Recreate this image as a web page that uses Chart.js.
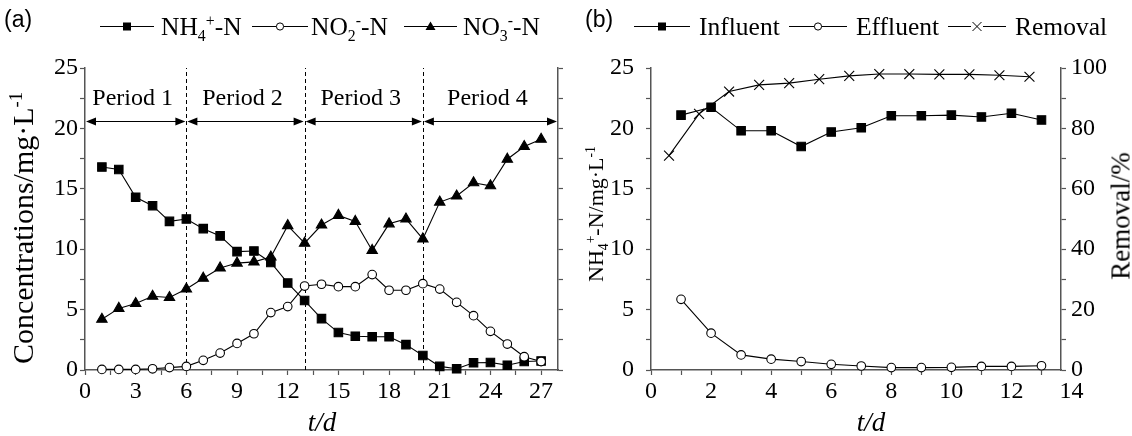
<!DOCTYPE html>
<html>
<head>
<meta charset="utf-8">
<script src="https://cdn.jsdelivr.net/npm/chart.js@4/dist/chart.umd.min.js"></script>
<style>
html,body{margin:0;padding:0;background:#fff;}
#wrap{position:relative;width:1132px;height:436px;overflow:hidden;font-family:"Liberation Serif","Times New Roman",serif;color:#000;}
canvas{position:absolute;top:0;}
.t{position:absolute;white-space:nowrap;line-height:1;}
.rot{transform:translate(-50%,-50%) rotate(-90deg);}
.ctr{transform:translate(-50%,-50%);}
sub,sup{font-size:62%;line-height:0;}
</style>
</head>
<body>
<div id="wrap">
<canvas id="ca" width="566" height="436" style="left:0;width:566px;height:436px"></canvas>
<canvas id="cb" width="566" height="436" style="left:566px;width:566px;height:436px"></canvas>
<svg id="lg" width="1132" height="50" style="position:absolute;left:0;top:0"></svg>
</div>
<script>
// ---------- data: panel (a) ----------
const daysA = [1,2,3,4,5,6,7,8,9,10,11,12,13,14,15,16,17,18,19,20,21,22,23,24,25,26,27];
const nh4 = [16.8,16.6,14.3,13.6,12.3,12.5,11.7,11.1,9.8,9.85,8.9,7.2,5.75,4.25,3.1,2.8,2.75,2.75,2.1,1.2,0.3,0.1,0.6,0.62,0.4,0.7,0.75];
const no2 = [0.05,0.05,0.05,0.1,0.2,0.3,0.8,1.4,2.2,3.0,4.75,5.25,6.95,7.1,6.9,6.9,7.9,6.6,6.6,7.15,6.7,5.6,4.5,3.2,2.15,1.1,0.7];
const no3 = [4.2,5.1,5.5,6.1,6.0,6.7,7.6,8.45,8.85,8.95,9.35,11.95,10.5,12.0,12.8,12.3,9.9,12.1,12.5,10.85,13.9,14.4,15.5,15.25,17.45,18.5,19.1];
const xTicksA = [0,1.5,3,4.5,6,7.5,9,10.5,12,13.5,15,16.5,18,19.5,21,22.5,24,25.5,27];
const yTicksA = [0,2.5,5,7.5,10,12.5,15,17.5,20,22.5,25];
const periodBounds = [0,6,13,20,28];
const periodNames = ['Period 1','Period 2','Period 3','Period 4'];
const arrowLevel = 20.6;
const periodLabelLevel = 21.9;

// ---------- data: panel (b) ----------
const daysB = [1,2,3,4,5,6,7,8,9,10,11,12,13];
const influent = [21.1,21.75,19.8,19.8,18.5,19.7,20.05,21.05,21.05,21.1,20.95,21.25,20.7];
const effluent = [5.85,3.05,1.25,0.9,0.7,0.47,0.33,0.2,0.2,0.22,0.3,0.3,0.35];
const removalDays = [0.6,1.6,2.6,3.6,4.6,5.6,6.6,7.6,8.6,9.6,10.6,11.6,12.6];
const removal = [71.0,84.8,92.2,94.4,95.0,96.3,97.4,98.0,98.0,97.9,97.9,97.6,97.1];
const xTicksB = [0,1,2,3,4,5,6,7,8,9,10,11,12,13,14];
const yTicksB = [0,2.5,5,7.5,10,12.5,15,17.5,20,22.5,25];
const y2TicksB = [0,10,20,30,40,50,60,70,80,90,100];

// ---------- text ----------
const seriesA = ['NH<sub>4</sub><sup>+</sup>-N','NO<sub>2</sub><sup>-</sup>-N','NO<sub>3</sub><sup>-</sup>-N'];
const seriesB = ['Influent','Effluent','Removal'];

const FONT = '"Liberation Serif","Times New Roman",serif';
const AX = '#555';
const pts = (xs, ys) => xs.map((x,i)=>({x, y: ys[i]}));

function ds(data, style, r, fill, yAxisID){
  return {data, pointStyle: style, pointRadius: r, pointHoverRadius: r,
    borderColor:'#000', borderWidth:1.1, backgroundColor: fill,
    pointBackgroundColor: fill, pointBorderColor:'#000', pointBorderWidth:1.1,
    clip:false, yAxisID: yAxisID || 'y', tension:0};
}
function tickFont(s){ return {family: FONT, size: s}; }

const periodPlugin = {
  id:'periods',
  beforeDatasetsDraw(chart){
    const {ctx, scales:{x, y}} = chart;
    ctx.save();
    ctx.strokeStyle='#000'; ctx.lineWidth=1; ctx.setLineDash([4,3]);
    for (const b of periodBounds.slice(1,-1)){
      const px = Math.round(x.getPixelForValue(b)) + 0.5;
      ctx.beginPath(); ctx.moveTo(px, y.getPixelForValue(0)); ctx.lineTo(px, y.getPixelForValue(25)); ctx.stroke();
    }
    ctx.restore();
  },
  afterDatasetsDraw(chart){
    const {ctx, scales:{x, y}} = chart;
    ctx.save();
    const ay = Math.round(y.getPixelForValue(arrowLevel)) + 0.5;
    const ly = y.getPixelForValue(periodLabelLevel);
    ctx.strokeStyle = '#000'; ctx.fillStyle = '#000'; ctx.lineWidth = 1.2;
    for (let i=0;i<periodNames.length;i++){
      const x0 = x.getPixelForValue(periodBounds[i]) + 1;
      const x1 = x.getPixelForValue(periodBounds[i+1]) - 1;
      ctx.beginPath(); ctx.moveTo(x0+6, ay); ctx.lineTo(x1-6, ay); ctx.stroke();
      ctx.beginPath(); ctx.moveTo(x0, ay); ctx.lineTo(x0+10, ay-4); ctx.lineTo(x0+10, ay+4); ctx.closePath(); ctx.fill();
      ctx.beginPath(); ctx.moveTo(x1, ay); ctx.lineTo(x1-10, ay-4); ctx.lineTo(x1-10, ay+4); ctx.closePath(); ctx.fill();
      ctx.font = '24px ' + FONT; ctx.textAlign='center'; ctx.textBaseline='alphabetic';
      ctx.fillText(periodNames[i], (x0+x1)/2 - 3, ly);
    }
    ctx.restore();
  }
};

new Chart(document.getElementById('ca'), {
  type:'line',
  data:{datasets:[
    ds(pts(daysA, no3), 'triangle', 6, '#000'),
    ds(pts(daysA, no2), 'circle', 4.3, '#fff'),
    ds(pts(daysA, nh4), 'rect', 6, '#000')
  ]},
  options:{
    responsive:false, animation:false, events:[],
    layout:{padding:{top:68,left:0,right:0,bottom:0}, autoPadding:false},
    plugins:{legend:{display:false}, tooltip:{enabled:false}},
    scales:{
      x:{type:'linear', min:0, max:28,
        afterBuildTicks: s => { s.ticks = xTicksA.map(v=>({value:v})); },
        ticks:{callback: v => (v%3===0 ? String(v) : ''), font:tickFont(24), color:'#000', padding:2, maxRotation:0, autoSkip:false},
        grid:{drawOnChartArea:false, tickLength:5, color:AX, tickWidth:1.2},
        border:{color:AX, width:1.5},
        afterFit: s => { s.height = 66; }},
      y:{type:'linear', min:0, max:25, position:'left',
        afterBuildTicks: s => { s.ticks = yTicksA.map(v=>({value:v})); },
        ticks:{callback: v => (v%5===0 ? String(v) : ''), font:tickFont(24), color:'#000', padding:2, autoSkip:false},
        grid:{drawOnChartArea:false, tickLength:5, color:AX, tickWidth:1.2},
        border:{color:AX, width:1.5},
        afterFit: s => { s.width = 85; }},
      y2:{type:'linear', min:0, max:25, position:'right',
        afterBuildTicks: s => { s.ticks = yTicksA.map(v=>({value:v})); },
        ticks:{display:false},
        grid:{drawOnChartArea:false, tickLength:5, color:AX, tickWidth:1.2},
        border:{color:AX, width:1.5},
        afterFit: s => { s.width = 8; }}
    }
  },
  plugins:[periodPlugin]
});

new Chart(document.getElementById('cb'), {
  type:'line',
  data:{datasets:[
    ds(pts(removalDays, removal), 'crossRot', 7, '#000', 'y2'),
    ds(pts(daysB, effluent), 'circle', 4.3, '#fff'),
    ds(pts(daysB, influent), 'rect', 6, '#000')
  ]},
  options:{
    responsive:false, animation:false, events:[],
    layout:{padding:{top:68,left:0,right:0,bottom:0}, autoPadding:false},
    plugins:{legend:{display:false}, tooltip:{enabled:false}},
    scales:{
      x:{type:'linear', min:0, max:13.65,
        afterBuildTicks: s => { s.ticks = xTicksB.map(v=>({value:v})); },
        ticks:{callback: v => (v%2===0 ? String(v) : ''), font:tickFont(24), color:'#000', padding:2, maxRotation:0, autoSkip:false},
        grid:{drawOnChartArea:false, tickLength:5, tickColor: c => (c.tick && c.tick.value > 13.65 ? 'rgba(0,0,0,0)' : AX), color:AX, tickWidth:1.2},
        border:{color:AX, width:1.5},
        afterFit: s => { s.height = 66; }},
      y:{type:'linear', min:0, max:25, position:'left',
        afterBuildTicks: s => { s.ticks = yTicksB.map(v=>({value:v})); },
        ticks:{callback: v => (v%5===0 ? String(v) : ''), font:tickFont(24), color:'#000', padding:12, autoSkip:false},
        grid:{drawOnChartArea:false, tickLength:5, color:AX, tickWidth:1.2},
        border:{color:AX, width:1.5},
        afterFit: s => { s.width = 85; }},
      y2:{type:'linear', min:0, max:100, position:'right',
        afterBuildTicks: s => { s.ticks = y2TicksB.map(v=>({value:v})); },
        ticks:{callback: v => (v%20===0 ? String(v) : ''), font:tickFont(24), color:'#000', padding:5, autoSkip:false},
        grid:{drawOnChartArea:false, tickLength:5, color:AX, tickWidth:1.2},
        border:{color:AX, width:1.5},
        afterFit: s => { s.width = 71; }}
    }
  }
});

// ---------- HTML text: titles, panel labels, legends ----------
const wrap = document.getElementById('wrap');
function addText(html, css, cls){
  const d = document.createElement('div');
  d.className = 't ' + (cls||'');
  d.innerHTML = html;
  Object.assign(d.style, css);
  wrap.appendChild(d);
}
addText('Concentrations/mg·L<sup>-1</sup>', {left:'23px', top:'228px', fontSize:'30px'}, 'rot');
addText('NH<sub>4</sub><sup>+</sup>-N/mg·L<sup>-1</sup>', {left:'596px', top:'214px', fontSize:'22px'}, 'rot');
addText('Removal/%', {left:'1121px', top:'216px', fontSize:'27px'}, 'rot');
addText('<i>t/d</i>', {left:'322px', top:'422px', fontSize:'27px'}, 'ctr');
addText('<i>t/d</i>', {left:'871px', top:'422px', fontSize:'27px'}, 'ctr');
addText('(a)', {left:'4px', top:'8px', fontSize:'23px', fontFamily:'"Liberation Sans",Arial,sans-serif'});
addText('(b)', {left:'585px', top:'8px', fontSize:'23px', fontFamily:'"Liberation Sans",Arial,sans-serif'});

const legendItems = [
  {x0:100, x1:154, mark:'rect', text:seriesA[0], tx:161},
  {x0:252, x1:308, mark:'circle', text:seriesA[1], tx:311},
  {x0:404, x1:457, mark:'triangle', text:seriesA[2], tx:463},
  {x0:634, x1:690, mark:'rect', text:seriesB[0], tx:699},
  {x0:789, x1:847, mark:'circle', text:seriesB[1], tx:856},
  {x0:948, x1:1006, mark:'cross', text:seriesB[2], tx:1015}
];
const svg = document.getElementById('lg');
const LY = 26.5;
let s = '';
for (const it of legendItems){
  const cx = (it.x0 + it.x1)/2;
  s += `<line x1="${it.x0}" y1="${LY}" x2="${it.x1}" y2="${LY}" stroke="#000" stroke-width="1.1"/>`;
  if (it.mark==='rect') s += `<rect x="${cx-4}" y="${LY-4}" width="8" height="8" fill="#000"/>`;
  if (it.mark==='circle') s += `<circle cx="${cx}" cy="${LY}" r="3.6" fill="#fff" stroke="#000" stroke-width="1"/>`;
  if (it.mark==='triangle') s += `<polygon points="${cx},${LY-5} ${cx+5},${LY+3.5} ${cx-5},${LY+3.5}" fill="#000"/>`;
  if (it.mark==='cross') s += `<rect x="${cx-6}" y="${LY-5}" width="12" height="10" fill="#fff"/><path d="M${cx-4.5} ${LY-4.5}L${cx+4.5} ${LY+4.5}M${cx+4.5} ${LY-4.5}L${cx-4.5} ${LY+4.5}" stroke="#000" stroke-width="1"/>`;
  addText(it.text, {left: it.tx+'px', top:'14px', fontSize:'25.5px'});
}
svg.innerHTML = s;
</script>
</body>
</html>
